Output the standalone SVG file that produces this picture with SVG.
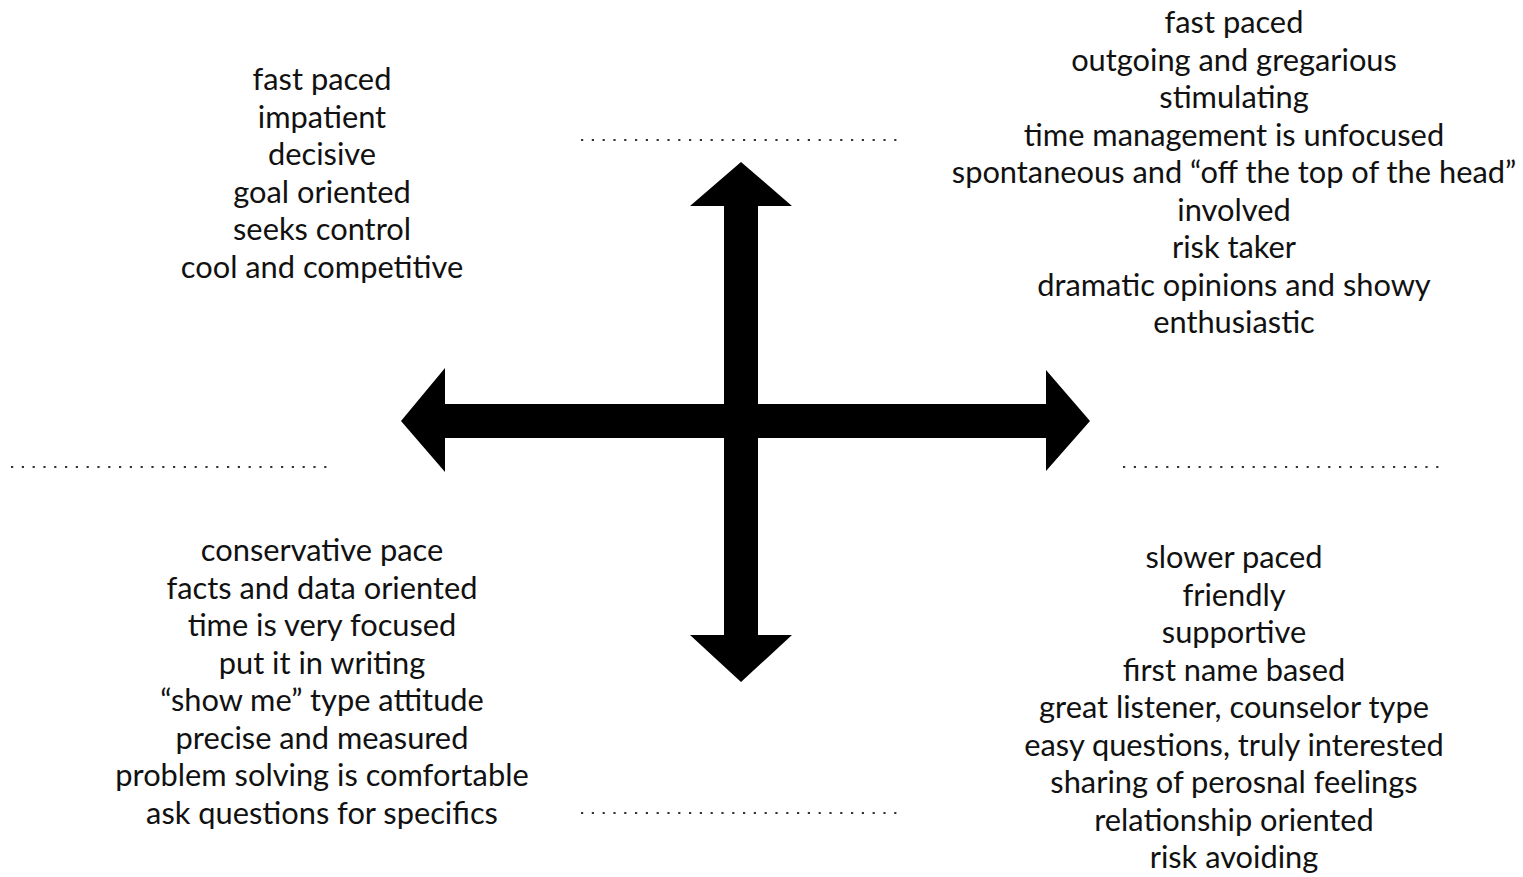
<svg xmlns="http://www.w3.org/2000/svg" width="1523" height="877" viewBox="0 0 1523 877">
<style>
.t{font-family:Lato,"Open Sans","Liberation Sans",sans-serif;font-size:30.8px;fill:#111;text-anchor:middle}
.dot{stroke:#333;stroke-width:2.2;stroke-dasharray:2.2 8.6;fill:none}
</style>
<rect width="1523" height="877" fill="#fff"/>
<g id="connectors">
<polygon fill="#000" points="401,421 445,368 445,404 1046,404 1046,370 1090,421 1046,471 1046,438 445,438 445,472"/>
<polygon fill="#000" points="741,162 690,206 724,206 724,635 690,635 741,682 792,635 758,635 758,206 792,206"/>
</g>
<g id="dividers">
<line class="dot" x1="581" y1="140" x2="905" y2="140"/>
<line class="dot" x1="11" y1="467" x2="335" y2="467"/>
<line class="dot" x1="1123" y1="467" x2="1447" y2="467"/>
<line class="dot" x1="581" y1="813" x2="905" y2="813"/>
</g>
<g id="top-left">
<text class="t" x="322" y="90">fast paced</text>
<text class="t" x="322" y="127.6">impatient</text>
<text class="t" x="322" y="165.2">decisive</text>
<text class="t" x="322" y="202.8">goal oriented</text>
<text class="t" x="322" y="240.4">seeks control</text>
<text class="t" x="322" y="278">cool and competitive</text>
</g>
<g id="top-right">
<text class="t" x="1234" y="33">fast paced</text>
<text class="t" x="1234" y="70.5">outgoing and gregarious</text>
<text class="t" x="1234" y="108">stimulating</text>
<text class="t" x="1234" y="145.5">time management is unfocused</text>
<text class="t" x="1234" y="183">spontaneous and “off the top of the head”</text>
<text class="t" x="1234" y="220.5">involved</text>
<text class="t" x="1234" y="258">risk taker</text>
<text class="t" x="1234" y="295.5">dramatic opinions and showy</text>
<text class="t" x="1234" y="333">enthusiastic</text>
</g>
<g id="bottom-left">
<text class="t" x="322" y="561">conservative pace</text>
<text class="t" x="322" y="598.6">facts and data oriented</text>
<text class="t" x="322" y="636.1">time is very focused</text>
<text class="t" x="322" y="673.7">put it in writing</text>
<text class="t" x="322" y="711.3">“show me” type attitude</text>
<text class="t" x="322" y="748.9">precise and measured</text>
<text class="t" x="322" y="786.4">problem solving is comfortable</text>
<text class="t" x="322" y="824">ask questions for specifics</text>
</g>
<g id="bottom-right">
<text class="t" x="1234" y="568">slower paced</text>
<text class="t" x="1234" y="605.5">friendly</text>
<text class="t" x="1234" y="643">supportive</text>
<text class="t" x="1234" y="680.5">first name based</text>
<text class="t" x="1234" y="718">great listener, counselor type</text>
<text class="t" x="1234" y="755.5">easy questions, truly interested</text>
<text class="t" x="1234" y="793">sharing of perosnal feelings</text>
<text class="t" x="1234" y="830.5">relationship oriented</text>
<text class="t" x="1234" y="868">risk avoiding</text>
</g>
</svg>
